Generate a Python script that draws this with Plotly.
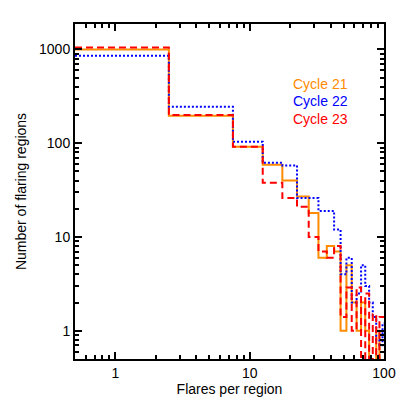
import numpy as np
import plotly.graph_objects as go

# left bin edges (bins of width 5, first one cut by the axis at 0.5)
bin_edges = [0.5, 2.5, 7.5, 12.5, 17.5, 22.5, 27.5, 32.5, 37.5, 42.5, 47.5,
             52.5, 57.5, 62.5, 67.5, 72.5, 77.5, 82.5, 87.5, 92.5, 97.5, 102.5]

cycle21 = [1000, 196, 92, 59, 40, 27, 18, 6, 8, 7, 1, 5, 2, 1, 2, 1, 0, 0, 1, 0, 0]
cycle22 = [860, 245, 104, 62, 58, 26, 26, 19, 19, 12, 4, 6, 2, 2.5, 5, 3, 2, 1.4, 0.8, 0.7, 1.2]
cycle23 = [1050, 200, 92, 38, 26, 21, 10, 7, 6, 8, 1.4, 2.9, 1, 2.9, 0, 2.5, 0, 1.5, 0, 1.4, 1.4]

labels = ['Cycle 21', 'Cycle 22', 'Cycle 23']
colors = ['#FF8C00', '#0000FF', '#FF0000']
dashes = ['solid', '2px,2px', '7px,4px']

FONT = 'Liberation Sans, Arial, sans-serif'


def steps(counts):
    # empty bins fall below the axis, like in the original plot
    y = [c if c > 0 else 0.1 for c in counts]
    return bin_edges, y + [y[-1]]


fig = go.Figure()

for counts, color, dash in zip([cycle21, cycle22, cycle23], colors, dashes):
    x, y = steps(counts)
    fig.add_trace(go.Scatter(x=x, y=y, mode='lines', line_shape='hv',
                             line=dict(color=color, width=2, dash=dash),
                             showlegend=False, hoverinfo='skip'))

for i, (label, color) in enumerate(zip(labels, colors)):
    fig.add_annotation(x=0.698, y=0.821 - i * 0.0522, xref='paper', yref='paper',
                       xanchor='left', yanchor='middle', showarrow=False,
                       text=label, font=dict(color=color, size=14, family=FONT))

axis_style = dict(type='log', showgrid=False, zeroline=False, showline=True,
                  linecolor='black', linewidth=2, mirror='ticks',
                  ticks='inside', ticklen=7, tickwidth=1.5, tickcolor='black',
                  tickmode='linear', dtick=1, exponentformat='none',
                  minor=dict(ticks='inside', ticklen=4, tickwidth=1.5,
                             tickcolor='black', showgrid=False),
                  tickfont=dict(size=14, color='black', family=FONT))

# the page body has an 8px margin, so the figure is 399px and margins are shifted
fig.update_layout(
    width=399, height=399,
    margin=dict(l=67, r=23, t=16, b=48),
    paper_bgcolor='white', plot_bgcolor='white',
    font=dict(family=FONT, size=14, color='black'),
    xaxis=dict(axis_style, range=[np.log10(0.5), np.log10(100)],
               title=dict(text='Flares per region', standoff=3,
                          font=dict(size=14, family=FONT))),
    yaxis=dict(axis_style, range=[np.log10(0.5), np.log10(1870)],
               title=dict(text='Number of flaring regions', standoff=9,
                          font=dict(size=14, family=FONT))),
)

fig.write_html('out.html')
